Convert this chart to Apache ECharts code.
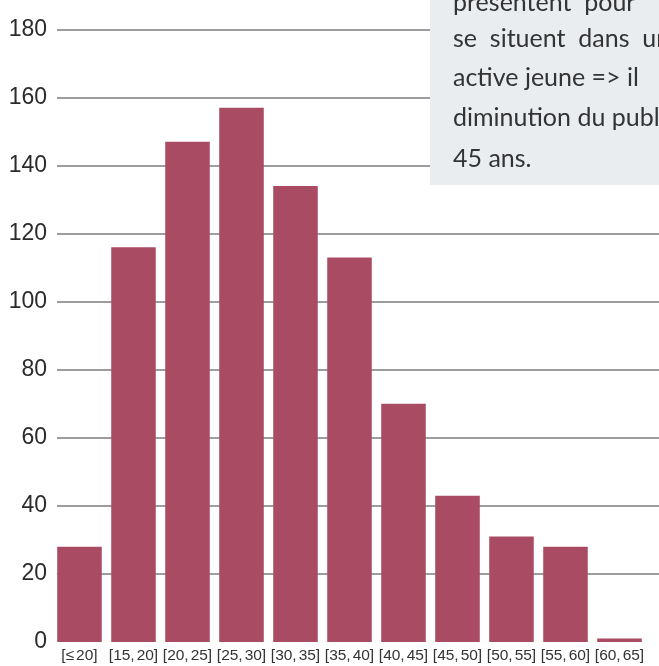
<!DOCTYPE html>
<html>
<head>
<meta charset="utf-8">
<script src="https://cdn.jsdelivr.net/npm/echarts@6/dist/echarts.min.js"></script>
<style>
html,body{margin:0;padding:0;background:#fff;}
#chart{width:659px;height:666px;}
</style>
</head>
<body>
<div id="chart"></div>
<script>
// Data
var categories = ['[≤ 20]', '[15, 20]', '[20, 25]', '[25, 30]', '[30, 35]', '[35, 40]', '[40, 45]', '[45, 50]', '[50, 55]', '[55, 60]', '[60, 65]'];
var counts = [28, 116, 147, 157, 134, 113, 70, 43, 31, 28, 1];
var yMin = 0, yMax = 180, yStep = 20;
var noteLines = ['présentent  pour', 'se  situent  dans  une', 'active jeune => il', 'diminution du public', '45 ans.'];

var chart = echarts.init(document.getElementById('chart'), null, {renderer: 'canvas'});

var noteBaselines = [9, 45, 84, 124, 165];
var graphics = [{
  type: 'rect', z: 100,
  shape: {x: 430, y: 0, width: 240, height: 185},
  style: {fill: '#EAEDF0'}
}];
noteLines.forEach(function (t, i) {
  graphics.push({
    type: 'text', z: 101,
    x: 453, y: noteBaselines[i] + 6,
    style: {
      text: t,
      fill: '#333333',
      font: '25px Lato, "Open Sans", sans-serif',
      verticalAlign: 'bottom'
    }
  });
});

chart.setOption({
  animation: false,
  backgroundColor: '#ffffff',
  graphic: graphics,
  grid: [
    {left: 57, right: 0, top: 29.5, bottom: 24},
    {left: 52.5, right: 12.5, top: 29.5, bottom: 24}
  ],
  xAxis: [
    {gridIndex: 0, type: 'category', data: categories, show: false},
    {
      gridIndex: 1, type: 'category', data: categories,
      axisLine: {show: false}, axisTick: {show: false},
      axisLabel: {
        interval: 0, margin: 6, color: '#333333',
        fontSize: 15.5,
        fontFamily: '"Liberation Sans", Arial, sans-serif',
        formatter: function (v) {
          return v.split(' ').join('{s| }');
        },
        rich: {
          s: {fontSize: 7, fontFamily: '"Liberation Sans", Arial, sans-serif'}
        }
      }
    }
  ],
  yAxis: [
    {
      gridIndex: 0, type: 'value', min: yMin, max: yMax, interval: yStep,
      axisLine: {show: false}, axisTick: {show: false},
      axisLabel: {margin: 10, color: '#2b2b2b', fontSize: 23, fontFamily: '"Liberation Sans", Arial, sans-serif'},
      splitLine: {show: true, showMinLine: false, lineStyle: {color: '#9d9d9f', width: 2}}
    },
    {
      gridIndex: 1, type: 'value', min: yMin, max: yMax, interval: yStep,
      show: false, splitLine: {show: false}
    }
  ],
  series: [{
    type: 'bar',
    xAxisIndex: 1, yAxisIndex: 1,
    data: counts,
    barCategoryGap: '17.5%',
    itemStyle: {color: '#A94C63'},
    z: 5
  }]
});
</script>
</body>
</html>
